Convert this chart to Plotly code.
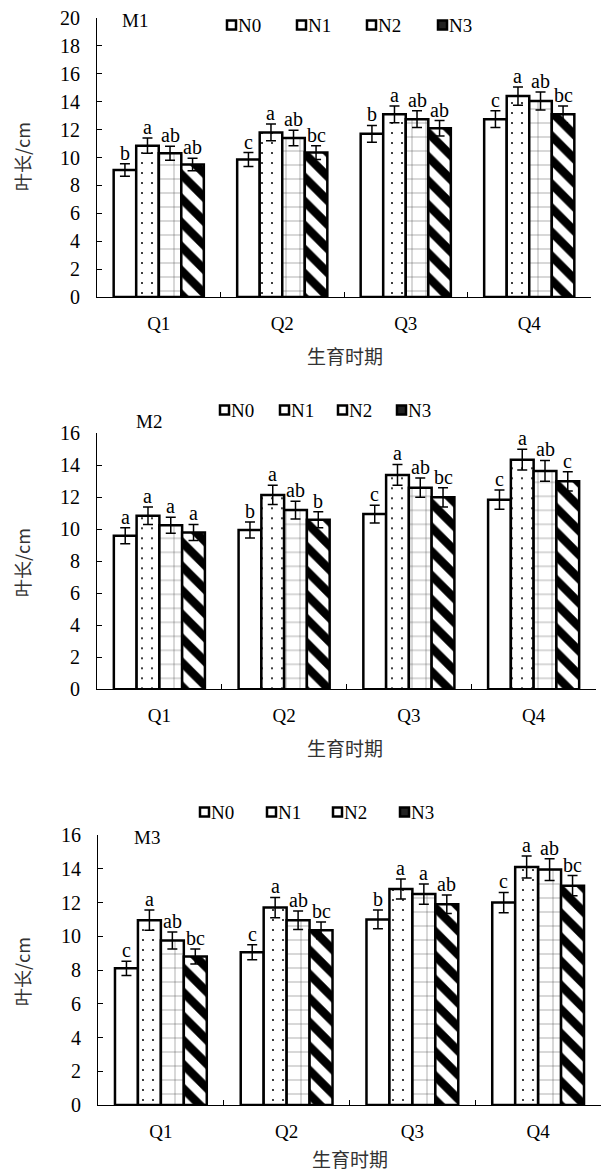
import plotly.graph_objects as go

W, H = 601, 1172

categories = ["Q1", "Q2", "Q3", "Q4"]
series = ["N0", "N1", "N2", "N3"]

# M1 panel
m1_values = {
    "N0": [9.1, 9.85, 11.7, 12.75],
    "N1": [10.85, 11.8, 13.1, 14.4],
    "N2": [10.3, 11.4, 12.75, 14.05],
    "N3": [9.5, 10.35, 12.1, 13.1],
}
m1_errors = {
    "N0": [0.45, 0.5, 0.6, 0.6],
    "N1": [0.55, 0.6, 0.6, 0.65],
    "N2": [0.5, 0.55, 0.6, 0.65],
    "N3": [0.45, 0.5, 0.55, 0.6],
}
m1_letters = {
    "N0": ["b", "c", "b", "c"],
    "N1": ["a", "a", "a", "a"],
    "N2": ["ab", "ab", "ab", "ab"],
    "N3": ["ab", "bc", "ab", "bc"],
}

# M2 panel
m2_values = {
    "N0": [9.6, 9.95, 10.95, 11.85],
    "N1": [10.85, 12.15, 13.4, 14.35],
    "N2": [10.25, 11.2, 12.6, 13.65],
    "N3": [9.8, 10.6, 12.0, 13.0],
}
m2_errors = {
    "N0": [0.5, 0.5, 0.55, 0.6],
    "N1": [0.55, 0.6, 0.65, 0.65],
    "N2": [0.5, 0.55, 0.6, 0.65],
    "N3": [0.5, 0.5, 0.6, 0.6],
}
m2_letters = {
    "N0": ["a", "b", "c", "c"],
    "N1": ["a", "a", "a", "a"],
    "N2": ["a", "ab", "ab", "ab"],
    "N3": ["a", "b", "bc", "c"],
}

# M3 panel
m3_values = {
    "N0": [8.1, 9.05, 11.0, 12.0],
    "N1": [10.95, 11.7, 12.8, 14.1],
    "N2": [9.75, 10.95, 12.5, 13.95],
    "N3": [8.8, 10.35, 11.9, 13.0],
}
m3_errors = {
    "N0": [0.42, 0.45, 0.55, 0.6],
    "N1": [0.6, 0.6, 0.6, 0.65],
    "N2": [0.5, 0.55, 0.6, 0.65],
    "N3": [0.45, 0.5, 0.55, 0.6],
}
m3_letters = {
    "N0": ["c", "c", "b", "c"],
    "N1": ["a", "a", "a", "a"],
    "N2": ["ab", "ab", "a", "ab"],
    "N3": ["bc", "bc", "ab", "bc"],
}

y_title = "叶长/cm"
x_title = "生育时期"

SERIF = "Liberation Serif"
CJK = "Noto Sans CJK SC"

patterns = {
    "N0": dict(shape=""),
    "N1": dict(shape=".", size=10, solidity=0.03, fgcolor="black", bgcolor="white", fgopacity=1),
    "N2": dict(shape="+", size=14, solidity=0.06, fgcolor="#444444", bgcolor="white", fgopacity=1),
    "N3": dict(shape="\\", size=17, solidity=0.5, fgcolor="black", bgcolor="white", fgopacity=1),
}
legend_fill = {"N0": "white", "N1": "white", "N2": "white", "N3": "#222222"}

def px_x(p):
    return p / W

def px_y(p):
    return 1 - p / H

panels = [
    dict(vals=m1_values, errs=m1_errors, lets=m1_letters, name="M1",
         xdom=[97, 591], ydom=[297, 18], yrange=[0, 20],
         name_pos=(135, 21), legend_x=[227, 297, 367, 438], legend_y=25,
         xt_pos=(345, 355), yt_pos=(22, 157)),
    dict(vals=m2_values, errs=m2_errors, lets=m2_letters, name="M2",
         xdom=[97, 596], ydom=[689.3, 433.3], yrange=[0, 16],
         name_pos=(149, 421), legend_x=[220, 280, 338, 397], legend_y=410,
         xt_pos=(345, 747), yt_pos=(22, 563)),
    dict(vals=m3_values, errs=m3_errors, lets=m3_letters, name="M3",
         xdom=[98, 601], ydom=[1105, 835], yrange=[0, 16],
         name_pos=(147, 837), legend_x=[200, 267, 333, 400], legend_y=812,
         xt_pos=(350, 1158), yt_pos=(22, 972)),
]

BARGAP = 0.27
bw = (1 - BARGAP) / len(series)
SQ = 9  # legend square size in px

fig = go.Figure()
annotations = []
shapes = []
layout = dict(
    width=W, height=H, autosize=False,
    margin=dict(l=0, r=0, t=0, b=0, pad=0, autoexpand=False),
    paper_bgcolor="white", plot_bgcolor="white",
    barmode="group", bargap=BARGAP, bargroupgap=0,
    showlegend=False,
    font=dict(family=SERIF, size=18, color="black"),
)

for pi, p in enumerate(panels):
    sfx = "" if pi == 0 else str(pi + 1)
    xa, ya = "x" + sfx, "y" + sfx
    for si, s in enumerate(series):
        fig.add_trace(go.Bar(
            x=categories, y=p["vals"][s], name=s,
            xaxis=xa, yaxis=ya,
            marker=dict(color="white", line=dict(color="black", width=2.5),
                        pattern=patterns[s]),
            error_y=dict(type="data", array=p["errs"][s], color="black",
                         thickness=1.5, width=5),
        ))
        for ci in range(len(categories)):
            annotations.append(dict(
                xref=xa, yref=ya,
                x=ci + (si - (len(series) - 1) / 2) * bw,
                y=p["vals"][s][ci] + p["errs"][s][ci],
                text=p["lets"][s][ci], showarrow=False,
                xanchor="center", yanchor="bottom", yshift=-2,
                font=dict(family=SERIF, size=20, color="black"),
            ))
        # legend entry (square + label)
        lx, ly = p["legend_x"][si], p["legend_y"]
        shapes.append(dict(
            type="rect", xref="paper", yref="paper",
            x0=px_x(lx), x1=px_x(lx + SQ),
            y0=px_y(ly + SQ / 2), y1=px_y(ly - SQ / 2),
            line=dict(color="black", width=2.5), fillcolor=legend_fill[s],
        ))
        annotations.append(dict(
            xref="paper", yref="paper", x=px_x(lx + SQ + 1), y=px_y(ly),
            text=s, showarrow=False, xanchor="left", yanchor="middle",
            font=dict(family=SERIF, size=19, color="black"), borderpad=0,
        ))
    layout["xaxis" + sfx] = dict(
        domain=[px_x(p["xdom"][0]), px_x(p["xdom"][1])], anchor=ya,
        type="category", range=[-0.5, 3.5],
        showline=True, linecolor="black", linewidth=1,
        ticks="inside", ticklen=5, tickcolor="black", tickson="boundaries",
        showgrid=False, zeroline=False, ticklabelstandoff=9,
        tickfont=dict(family=SERIF, size=19),
    )
    layout["yaxis" + sfx] = dict(
        domain=[px_y(p["ydom"][0]), px_y(p["ydom"][1])], anchor=xa,
        range=p["yrange"], dtick=2,
        showline=True, linecolor="black", linewidth=1,
        ticks="inside", ticklen=5, tickcolor="black",
        showgrid=False, zeroline=False, ticklabelstandoff=12,
        tickfont=dict(family=SERIF, size=20),
    )
    annotations.append(dict(
        xref="paper", yref="paper", x=px_x(p["name_pos"][0]), y=px_y(p["name_pos"][1]),
        text=p["name"], showarrow=False, xanchor="center", yanchor="middle",
        font=dict(family=SERIF, size=19, color="black"),
    ))
    annotations.append(dict(
        xref="paper", yref="paper", x=px_x(p["xt_pos"][0]), y=px_y(p["xt_pos"][1]),
        text=x_title, showarrow=False, xanchor="center", yanchor="middle",
        font=dict(family=CJK, size=19, color="#333333"),
    ))
    annotations.append(dict(
        xref="paper", yref="paper", x=px_x(p["yt_pos"][0]), y=px_y(p["yt_pos"][1]),
        text=y_title, showarrow=False, xanchor="center", yanchor="middle",
        textangle=-90,
        font=dict(family=CJK, size=18, color="#333333"),
    ))

layout["annotations"] = annotations
layout["shapes"] = shapes
fig.update_layout(**layout)
fig.write_html(
    "out.html",
    config={"displayModeBar": False},
    post_script="document.body.style.margin='0';document.body.style.padding='0';",
)
